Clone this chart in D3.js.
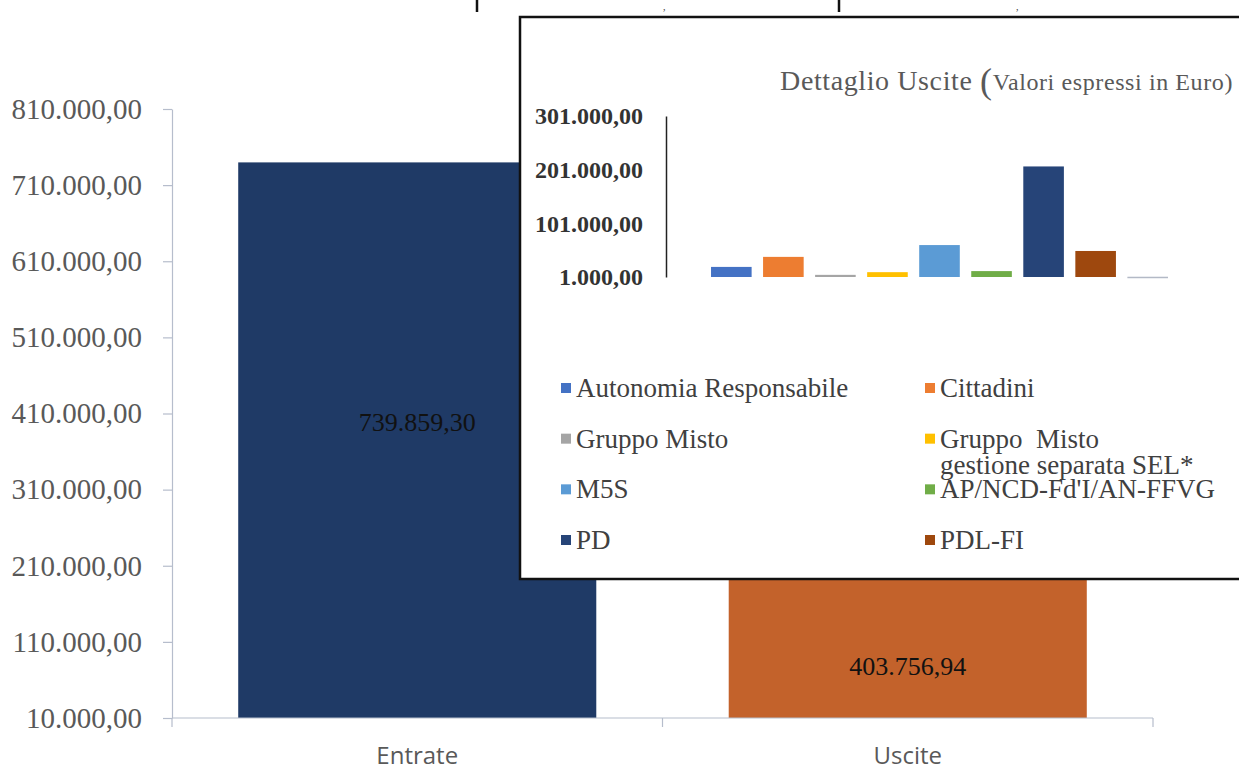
<!DOCTYPE html>
<html>
<head>
<meta charset="utf-8">
<script src="https://cdn.jsdelivr.net/npm/d3@7"></script>
<style>
  html, body { margin: 0; padding: 0; background: #fff; }
  svg { display: block; }
</style>
</head>
<body>
<div id="chart"></div>
<script>
// main chart
const mainCategories = ["Entrate", "Uscite"];
const mainValues = [739859.30, 403756.94];
const mainLabels = ["739.859,30", "403.756,94"];
const mainLabelAt = [398000, 77000]; // where the data label sits, in axis units
const mainTicks = [10000, 110000, 210000, 310000, 410000, 510000, 610000, 710000, 810000];

// inset "Dettaglio Uscite"
const groups = ["Autonomia Responsabile", "Cittadini", "Gruppo Misto", "Gruppo  Misto\ngestione separata SEL*",
                "M5S", "AP/NCD-Fd'I/AN-FFVG", "PD", "PDL-FI", ""];
const groupValues = [19800, 38500, 5000, 10000, 60500, 12000, 207000, 49500, 1500];
const insetTicks = [1000, 101000, 201000, 301000];

(function() {
    const config = {
        colors: {
            entrate: "#1f3a66",
            uscite: "#c3622b",
            axis: "#b6bdcc",
            text: "#595959",
            groups: ["#4472c4", "#ed7d31", "#a5a5a5", "#ffc000", "#5b9bd5", "#70ad47", "#264478", "#9e480e", "#b3b9c6"]
        },
        fonts: { serif: '"Liberation Serif", "Times New Roman", serif', sans: '"Open Sans", "Noto Sans", sans-serif' }
    };

    const it = d3.formatLocale({ decimal: ",", thousands: ".", grouping: [3], currency: ["", "€"] });
    const fmt = it.format(",.2f");

    const W = 1239, H = 769;
    const svg = d3.select("#chart").append("svg").attr("width", W).attr("height", H);

    // ---- main chart ----
    const x = d3.scaleBand().domain(mainCategories).range([172, 1153]).paddingInner(0.27).paddingOuter(0.135);
    const y = d3.scaleLinear().domain([10000, 810000]).range([718, 109]);

    const yAxis = svg.append("g")
        .attr("transform", "translate(172,0)")
        .call(d3.axisLeft(y).tickValues(mainTicks).tickFormat(fmt).tickSize(9).tickPadding(21).tickSizeOuter(0));
    yAxis.select(".domain").attr("stroke", config.colors.axis).attr("stroke-width", 1.2);
    yAxis.selectAll(".tick line").attr("stroke", config.colors.axis).attr("stroke-width", 1.2);
    yAxis.selectAll(".tick text")
        .attr("font-family", config.fonts.serif)
        .attr("font-size", "29px")
        .attr("fill", config.colors.text);

    svg.selectAll(".bar")
        .data(mainValues)
        .enter().append("rect")
        .attr("class", "bar")
        .attr("x", (d, i) => x(mainCategories[i]))
        .attr("y", d => y(d))
        .attr("width", x.bandwidth())
        .attr("height", d => y(10000) - y(d))
        .attr("fill", (d, i) => i === 0 ? config.colors.entrate : config.colors.uscite);

    svg.selectAll(".val")
        .data(mainLabels)
        .enter().append("text")
        .attr("x", (d, i) => x(mainCategories[i]) + x.bandwidth() / 2)
        .attr("y", (d, i) => y(mainLabelAt[i]))
        .attr("text-anchor", "middle")
        .attr("dominant-baseline", "central")
        .attr("font-family", config.fonts.serif)
        .attr("font-size", "26px")
        .attr("fill", "#111")
        .text(d => d);

    // category axis: ticks on band boundaries
    const r = x.range();
    const bounds = [r[0], r[0] + (r[1] - r[0]) / 2, r[1]];
    const xAxis = svg.append("g");
    xAxis.append("line")
        .attr("x1", r[0]).attr("x2", r[1]).attr("y1", y(10000)).attr("y2", y(10000))
        .attr("stroke", config.colors.axis).attr("stroke-width", 1.2);
    xAxis.selectAll(".xt").data(bounds).enter().append("line")
        .attr("x1", d => d).attr("x2", d => d)
        .attr("y1", y(10000)).attr("y2", y(10000) + 9)
        .attr("stroke", config.colors.axis).attr("stroke-width", 1.2);
    xAxis.selectAll(".xl").data(mainCategories).enter().append("text")
        .attr("x", d => x(d) + x.bandwidth() / 2)
        .attr("y", 754)
        .attr("text-anchor", "middle")
        .attr("dominant-baseline", "central")
        .attr("font-family", config.fonts.sans)
        .attr("font-size", "24px")
        .attr("fill", config.colors.text)
        .text(d => d);

    // bits of the table cut off above the chart
    [477, 839].forEach(px => {
        svg.append("line").attr("x1", px).attr("x2", px).attr("y1", 0).attr("y2", 12)
            .attr("stroke", "#111").attr("stroke-width", 2.5);
    });
    [663, 1016].forEach(px => {
        svg.append("text").attr("x", px).attr("y", 3).attr("dominant-baseline", "hanging")
            .attr("font-family", config.fonts.serif).attr("font-size", "10px").attr("fill", "#333").text(",");
    });

    // ---- inset ----
    const inset = svg.append("g");
    inset.append("rect")
        .attr("x", 520).attr("y", 17).attr("width", 740).attr("height", 562)
        .attr("fill", "#fff").attr("stroke", "#111").attr("stroke-width", 2.5);

    const title = inset.append("text")
        .attr("x", 1233).attr("y", 90)
        .attr("text-anchor", "end")
        .attr("font-family", config.fonts.serif)
        .attr("fill", config.colors.text)
        .attr("letter-spacing", "0.6px");
    title.append("tspan").attr("font-size", "28px").text("Dettaglio Uscite ");
    title.append("tspan").attr("font-size", "36px").attr("dy", 3).text("(");
    title.append("tspan").attr("font-size", "24px").attr("dy", -3).text("Valori espressi in Euro)");

    const ix = d3.scaleBand().domain(d3.range(groupValues.length)).range([685, 1194]).paddingInner(0.22).paddingOuter(0.5);
    const iy = d3.scaleLinear().domain([1000, 301000]).range([277, 116]);

    const iAxis = inset.append("g")
        .attr("transform", "translate(666,0)")
        .call(d3.axisLeft(iy).tickValues(insetTicks).tickFormat(fmt).tickSize(0).tickPadding(23).tickSizeOuter(0));
    iAxis.select(".domain").attr("stroke", "#222").attr("stroke-width", 1.5);
    iAxis.selectAll(".tick text")
        .attr("font-family", config.fonts.serif)
        .attr("font-size", "24px")
        .attr("font-weight", "bold")
        .attr("fill", "#333");

    inset.selectAll(".gbar")
        .data(groupValues)
        .enter().append("rect")
        .attr("class", "gbar")
        .attr("x", (d, i) => ix(i))
        .attr("y", d => iy(d))
        .attr("width", ix.bandwidth())
        .attr("height", d => Math.max(1.5, iy(1000) - iy(d)))
        .attr("fill", (d, i) => config.colors.groups[i]);

    // legend: two columns, four rows
    const legX = [561, 925];
    const legY = d3.scalePoint().domain(d3.range(4)).range([388, 540]);
    const items = groups.slice(0, 8);
    const leg = inset.selectAll(".leg")
        .data(items)
        .enter().append("g")
        .attr("transform", (d, i) => `translate(${legX[i % 2]},${legY(Math.floor(i / 2))})`);
    leg.append("rect")
        .attr("x", 0).attr("y", -5).attr("width", 10).attr("height", 10)
        .attr("fill", (d, i) => config.colors.groups[i]);
    // second line of a wrapped label goes in its own text element
    leg.each(function(d) {
        const g = d3.select(this);
        d.split("\n").forEach((ln, k) => {
            g.append("text")
                .attr("x", 15)
                .attr("y", 9 + k * 26)
                .attr("font-family", config.fonts.serif)
                .attr("font-size", "27px")
                .attr("fill", "#404040")
                .style("white-space", "pre")
                .text(ln);
        });
    });
})();
</script>
</body>
</html>
